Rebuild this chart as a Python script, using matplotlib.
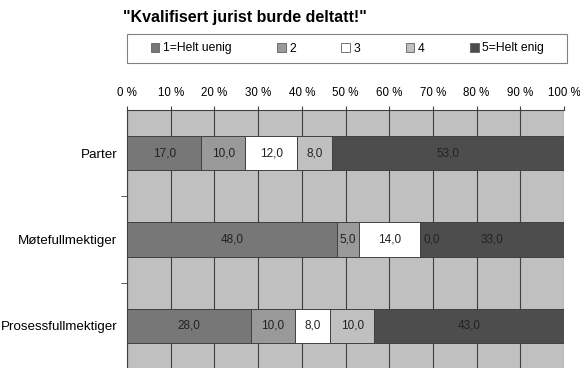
import matplotlib
matplotlib.use("Agg")
import matplotlib.pyplot as plt
from matplotlib.patches import Patch, Rectangle
import numpy as np

plt.rcParams["font.family"] = ["Liberation Sans", "DejaVu Sans"]

# data
categories = ["Parter", "Møtefullmektiger", "Prosessfullmektiger"]
series = ["1=Helt uenig", "2", "3", "4", "5=Helt enig"]
values = np.array([
    [17.0, 10.0, 12.0, 8.0, 53.0],
    [48.0, 5.0, 14.0, 0.0, 33.0],
    [28.0, 10.0, 8.0, 10.0, 43.0],
])
colors = ["#777777", "#999999", "#ffffff", "#c0c0c0", "#4d4d4d"]
xticks = list(range(0, 101, 10))

fig = plt.figure(figsize=(5.8, 3.68), dpi=100)
ax = fig.add_axes([127 / 580, -0.003, 437 / 580, 1 - 110 / 368 + 0.003])
ax.set_facecolor("#c0c0c0")

# 100 % stablet: normaliser hver rad
pct = values / values.sum(axis=1, keepdims=True) * 100
y = np.arange(len(categories))
left = np.zeros(len(categories))
for j, name in enumerate(series):
    ax.barh(y, pct[:, j], left=left, height=0.4, color=colors[j],
            edgecolor="#404040", linewidth=0.7, zorder=3, label=name)
    for i in range(len(categories)):
        txt = f"{values[i, j]:.1f}".replace(".", ",")
        if values[i, j] == 0:
            ax.text(left[i] + 0.8, y[i], txt, ha="left", va="center",
                    fontsize=8.5, color="#222222", zorder=4)
        else:
            ax.text(left[i] + pct[i, j] / 2, y[i], txt, ha="center",
                    va="center", fontsize=8.5, color="#222222", zorder=4)
    left += pct[:, j]

ax.set_xlim(0, 100)
ax.set_ylim(2.5, -0.5)
ax.xaxis.tick_top()
ax.set_xticks(xticks)
ax.set_xticklabels([f"{t} %" for t in xticks])
ax.tick_params(axis="x", length=3, pad=5, labelsize=8.3, color="#404040")
ax.set_yticks(y)
ax.set_yticklabels(categories)
ax.set_yticks([0.5, 1.5], minor=True)
ax.tick_params(axis="y", which="major", length=0, pad=7, labelsize=9.6)
ax.tick_params(axis="y", which="minor", length=4, color="#404040")
ax.grid(axis="x", color="#404040", linewidth=0.8, zorder=1)
ax.set_axisbelow(True)
for s in ["right", "bottom"]:
    ax.spines[s].set_visible(False)
for s in ["top", "left"]:
    ax.spines[s].set_color("#404040")
    ax.spines[s].set_linewidth(0.8)

# legend box
fig.add_artist(Rectangle((127 / 580, 1 - 63 / 368), 440 / 580, 29 / 368,
                         transform=fig.transFigure, facecolor="white",
                         edgecolor="#808080", linewidth=0.8))
handles = [Patch(facecolor=c, edgecolor="#606060", linewidth=0.6) for c in colors]
fig.legend(handles, series, loc="center", ncol=5, mode="expand",
           bbox_to_anchor=(151 / 580, 1 - 63 / 368, 393 / 580, 29 / 368),
           fontsize=8.7, frameon=False, handlelength=0.7, handleheight=0.7,
           handletextpad=0.3, borderpad=0, borderaxespad=0)

fig.text(123 / 580, 1 - 10 / 368, '"Kvalifisert jurist burde deltatt!"',
         ha="left", va="top", fontsize=11.5, fontweight="bold")

fig.savefig("out.png", dpi=100)
